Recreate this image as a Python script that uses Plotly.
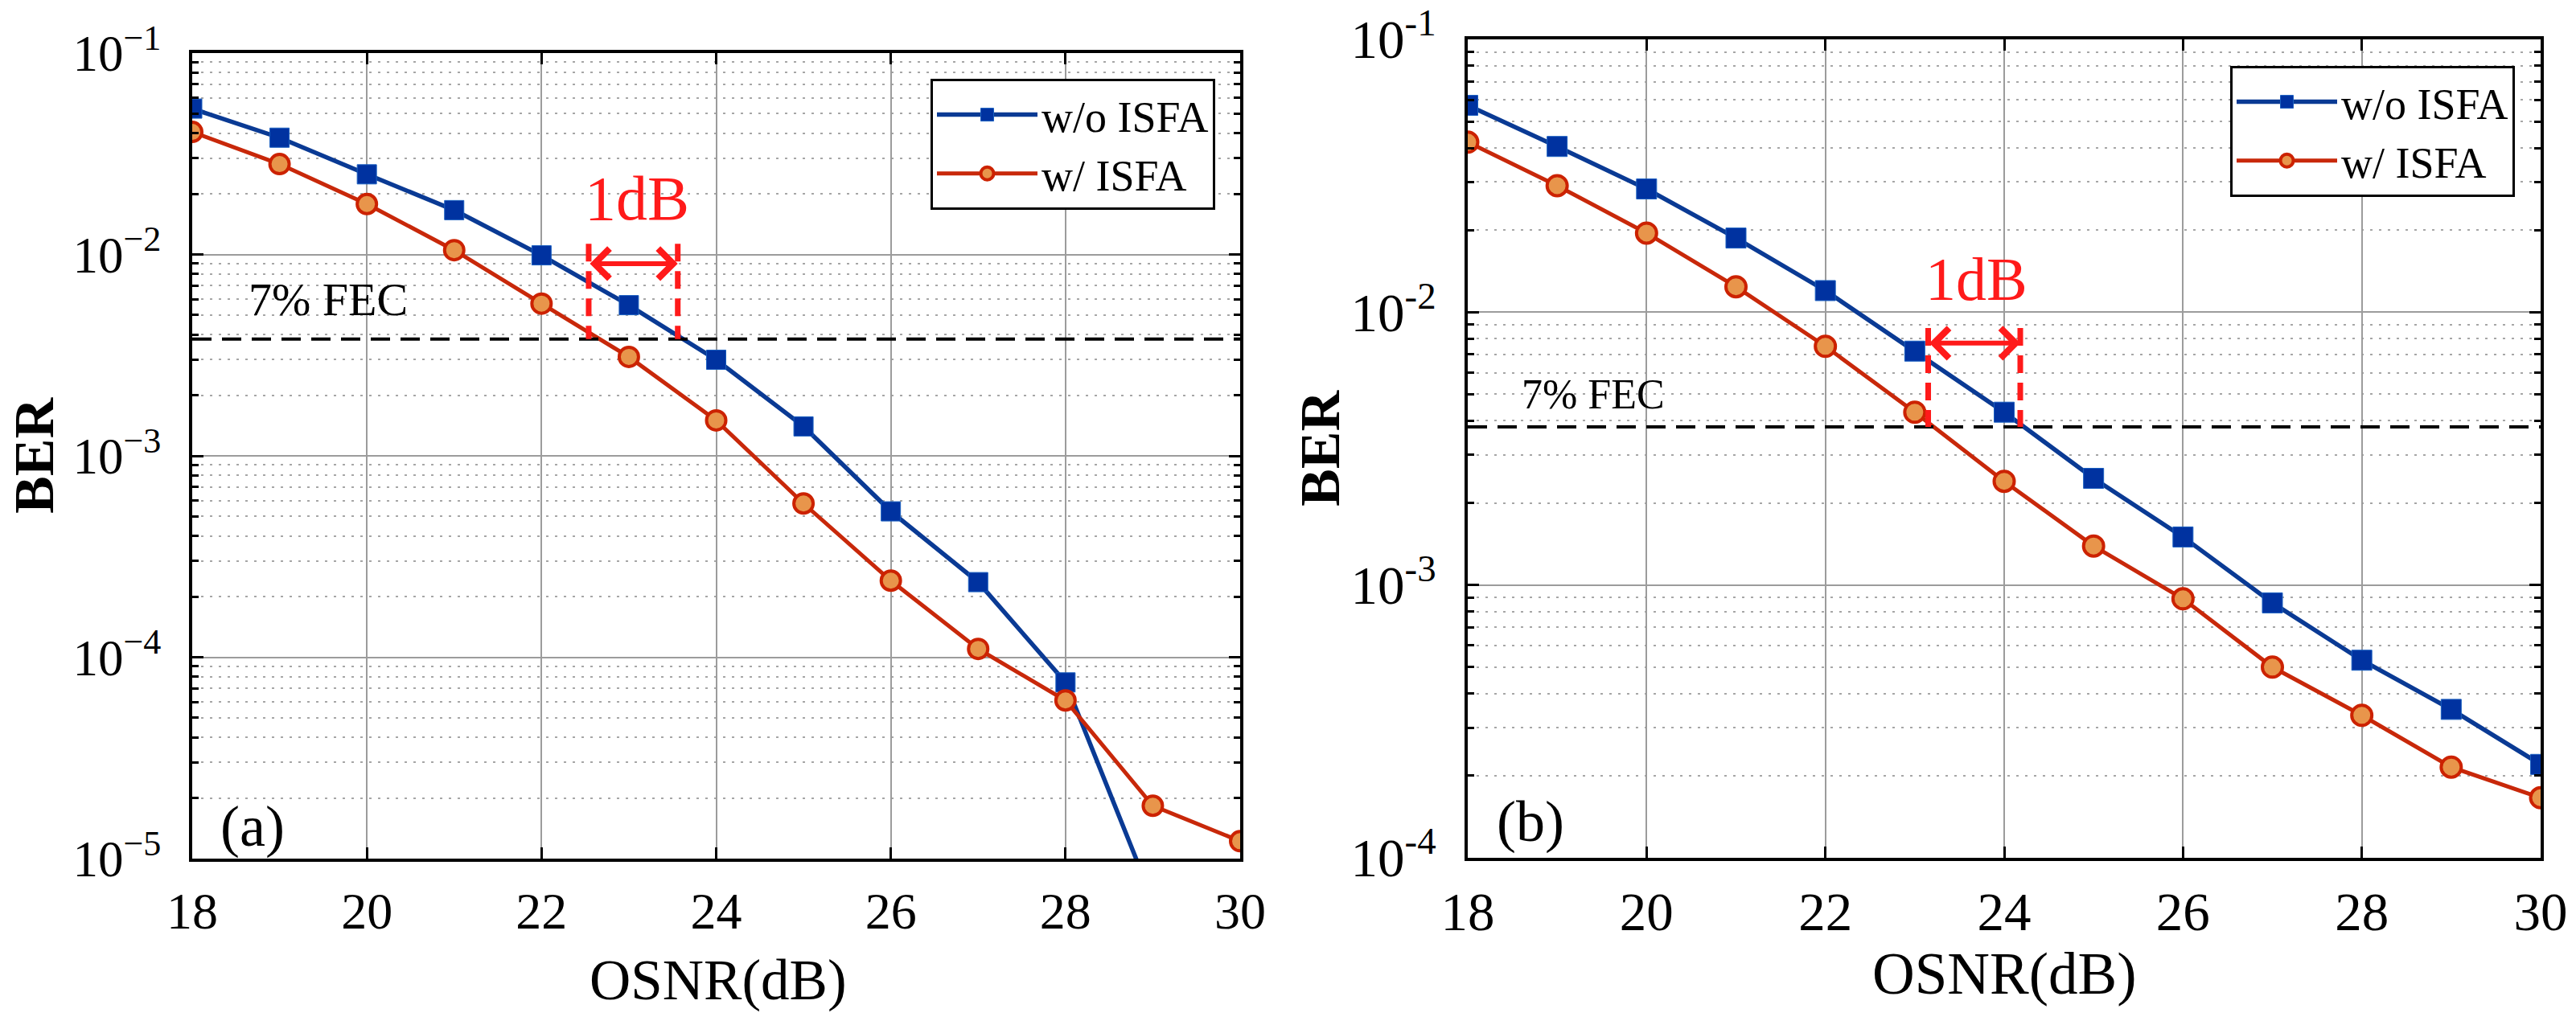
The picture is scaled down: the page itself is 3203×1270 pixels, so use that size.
import numpy as np
import plotly.graph_objects as go

# ---------------- data ----------------
osnr = [18, 19, 20, 21, 22, 23, 24, 25, 26, 27, 28, 29, 30]

# panel (a)
a_wo_x = [18, 19, 20, 21, 22, 23, 24, 25, 26, 27, 28, 29]
a_wo = [0.053, 0.038, 0.025, 0.0166, 0.0099, 0.0056, 0.0030, 0.0014,
        0.00053, 0.000236, 0.000075, 0.0000062]
a_w = [0.0406, 0.0281, 0.0178, 0.0105, 0.0057, 0.0031, 0.0015, 0.00058,
       0.00024, 0.00011, 0.000061, 0.0000183, 0.0000122]

# panel (b)
b_wo = [0.0573, 0.0405, 0.0283, 0.0187, 0.0120, 0.0072, 0.0043, 0.00246,
        0.0015, 0.00086, 0.00053, 0.00035, 0.00022]
b_w = [0.042, 0.0291, 0.0195, 0.0124, 0.0075, 0.0043, 0.0024, 0.00139,
       0.00089, 0.00050, 0.000333, 0.000215, 0.000166]

fec = 3.8e-3
x_ticks = [18, 20, 22, 24, 26, 28, 30]
a_yticks = [1e-5, 1e-4, 1e-3, 1e-2, 1e-1]
a_yticktext = ["10<sup>\u22125</sup>", "10<sup>\u22124</sup>", "10<sup>\u22123</sup>",
               "10<sup>\u22122</sup>", "10<sup>\u22121</sup>"]
b_yticks = [1e-4, 1e-3, 1e-2, 1e-1]
b_yticktext = ["10<sup>-4</sup>", "10<sup>-3</sup>", "10<sup>-2</sup>", "10<sup>-1</sup>"]

# 1 dB gap annotations: [left x, right x], top of markers, arrow level
a_gap_x = [22.54, 23.56]
a_gap_top = 0.0113
a_gap_arrow = 0.0090
b_gap_x = [23.15, 24.18]
b_gap_top = 0.00875
b_gap_arrow = 0.0077

# ---------------- styles ----------------
FONT = "Liberation Serif"
BLUE_LINE = "#0a3a94"
BLUE_MK = "#0032a0"
RED_LINE = "#c8280a"
RED_FILL = "#e8954b"
RED_EDGE = "#cc2200"
GAP_RED = "#ff1a1a"

W, H = 3203, 1270


def minor_vals(lo, hi):
    return [k * 10.0 ** e for e in range(lo, hi) for k in range(2, 10)]


fig = go.Figure()


def add_panel(xa, ya, xw, yw, xw2, yw2, legend, msize):
    fig.add_trace(go.Scatter(
        x=xw, y=yw, mode="lines+markers", name="w/o ISFA",
        xaxis=xa, yaxis=ya, legend=legend,
        line=dict(color=BLUE_LINE, width=5.5),
        marker=dict(symbol="square", size=msize, color=BLUE_MK,
                    line=dict(color="#1a5fc0", width=1))))
    fig.add_trace(go.Scatter(
        x=xw2, y=yw2, mode="lines+markers", name="w/ ISFA",
        xaxis=xa, yaxis=ya, legend=legend,
        line=dict(color=RED_LINE, width=5),
        marker=dict(symbol="circle", size=msize, color=RED_FILL,
                    line=dict(color=RED_EDGE, width=4))))
    fig.add_trace(go.Scatter(
        x=[18, 30], y=[fec, fec], mode="lines", showlegend=False,
        xaxis=xa, yaxis=ya, hoverinfo="skip",
        line=dict(color="black", width=4, dash="24px,13px")))


add_panel("x", "y", a_wo_x, a_wo, osnr, a_w, "legend", 24)
add_panel("x2", "y2", osnr, b_wo, osnr, b_w, "legend2", 25)

# red dashed verticals
for xa, ya, gx, gt in [("x", "y", a_gap_x, a_gap_top), ("x2", "y2", b_gap_x, b_gap_top)]:
    for xv in gx:
        fig.add_trace(go.Scatter(
            x=[xv, xv], y=[gt, fec], mode="lines", showlegend=False,
            xaxis=xa, yaxis=ya, hoverinfo="skip",
            line=dict(color=GAP_RED, width=7, dash="22px,12px")))

annotations = []
for xr, yr, gx, ga in [("x", "y", a_gap_x, a_gap_arrow), ("x2", "y2", b_gap_x, b_gap_arrow)]:
    annotations.append(dict(
        x=gx[1], y=np.log10(ga), ax=gx[0], ay=np.log10(ga),
        xref=xr, yref=yr, axref=xr, ayref=yr, text="", showarrow=True,
        arrowside="end+start", arrowhead=4, arrowsize=1.2, arrowwidth=6,
        arrowcolor=GAP_RED, standoff=0, startstandoff=0))


def label(x, y, xr, yr, text, size, color="black", angle=0):
    return dict(x=x, y=y, xref=xr, yref=yr, text=text, showarrow=False,
                xanchor="center", yanchor="middle", textangle=angle,
                font=dict(family=FONT, size=size, color=color))


annotations += [
    label(23.09, np.log10(0.019), "x", "y", "1dB", 78, GAP_RED),
    label(23.69, np.log10(0.01324), "x2", "y2", "1dB", 76, GAP_RED),
    label(19.56, np.log10(6.0e-3), "x", "y", "7% FEC", 58),
    label(19.40, np.log10(5.0e-3), "x2", "y2", "7% FEC", 52),
    label(18.69, -4.84, "x", "y", "(a)", 72),
    label(18.70, -3.868, "x2", "y2", "(b)", 72),
    # axis titles
    label(893 / W, 1 - 1219 / H, "paper", "paper", "OSNR(dB)", 71),
    label(2492 / W, 1 - 1211 / H, "paper", "paper", "OSNR(dB)", 73),
    label(43 / W, 1 - 567 / H, "paper", "paper", "<b>BER</b>", 70, angle=-90),
    label(1641 / W, 1 - 558 / H, "paper", "paper", "<b>BER</b>", 70, angle=-90),
]

common_x = dict(range=[18, 30], tickmode="array", tickvals=x_ticks, automargin=False,
                ticks="inside", ticklen=14, tickwidth=3, tickcolor="black",
                showline=True, linewidth=4, linecolor="black", mirror="ticks",
                showgrid=True, gridcolor="#9c9c9c", gridwidth=2, zeroline=False,
                ticklabelstandoff=6)
common_y = dict(type="log", tickmode="array", automargin=False,
                ticks="inside", ticklen=14, tickwidth=3, tickcolor="black",
                showline=True, linewidth=4, linecolor="black", mirror="ticks",
                showgrid=True, gridcolor="#9c9c9c", gridwidth=2, zeroline=False,
                ticklabelstandoff=22)


def minor_cfg(lo, hi):
    return dict(tickmode="array", tickvals=minor_vals(lo, hi), ticks="inside",
                ticklen=8, tickwidth=3, tickcolor="black", showgrid=True,
                gridcolor="#a6a6a6", gridwidth=2, griddash="3px,8px")


legend_common = dict(xanchor="right", yanchor="top", bgcolor="white",
                     bordercolor="black", borderwidth=3,
                     font=dict(family=FONT, size=54, color="black"),
                     itemwidth=125, tracegroupgap=0)

fig.update_layout(
    template="none",
    width=W, height=H, margin=dict(l=0, r=0, t=0, b=0, pad=0),
    paper_bgcolor="white", plot_bgcolor="white",
    font=dict(family=FONT, color="black"),
    xaxis=dict(common_x, domain=[239 / W, 1542 / W], anchor="y",
               tickfont=dict(family=FONT, size=64, color="black")),
    yaxis=dict(common_y, domain=[1 - 1068 / H, 1 - 66 / H], anchor="x", range=[-5, -1],
               tickvals=a_yticks, ticktext=a_yticktext,
               tickfont=dict(family=FONT, size=63, color="black"),
               minor=minor_cfg(-5, -1)),
    xaxis2=dict(common_x, domain=[1825 / W, 3159 / W], anchor="y2",
                tickfont=dict(family=FONT, size=67, color="black")),
    yaxis2=dict(common_y, domain=[1 - 1067 / H, 1 - 49 / H], anchor="x2", range=[-4, -1],
                tickvals=b_yticks, ticktext=b_yticktext,
                tickfont=dict(family=FONT, size=67, color="black"),
                minor=minor_cfg(-4, -1)),
    legend=dict(legend_common, x=1511 / W, y=1 - 98 / H),
    legend2=dict(legend_common, x=3127 / W, y=1 - 82 / H),
    annotations=annotations,
    showlegend=True,
)

fig.write_html("out.html", config={"displayModeBar": False},
               post_script="document.body.style.margin='0';document.body.style.overflow='hidden';")
